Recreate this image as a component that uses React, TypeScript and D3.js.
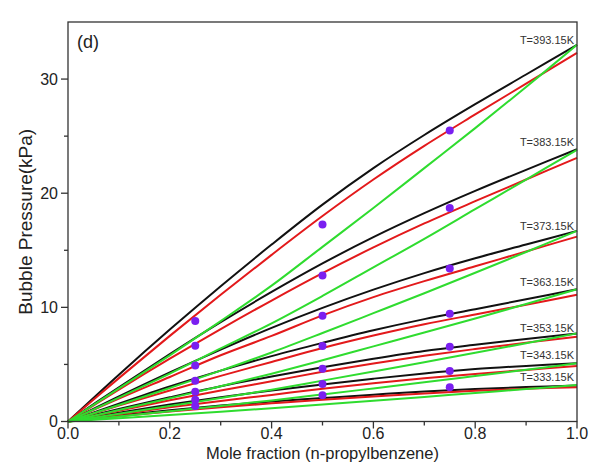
import React from "react";
import * as d3 from "d3";

const xGrid = [0, 0.1, 0.2, 0.3, 0.4, 0.5, 0.6, 0.7, 0.8, 0.9, 1.0];
const temps = ["T=393.15K", "T=383.15K", "T=373.15K", "T=363.15K", "T=353.15K", "T=343.15K", "T=333.15K"];

const black393 = [0, 4.1, 8.05, 11.85, 15.5, 19.0, 22.2, 25.1, 27.8, 30.4, 33.0];
const black383 = [0, 3.0, 5.9, 8.7, 11.35, 13.85, 16.15, 18.25, 20.2, 22.05, 23.85];
const black373 = [0, 2.2, 4.3, 6.3, 8.2, 9.95, 11.55, 13.0, 14.3, 15.5, 16.7];
const black363 = [0, 1.56, 3.07, 4.46, 5.73, 6.89, 7.99, 8.97, 9.84, 10.71, 11.58];
const black353 = [0, 1.1, 2.12, 3.09, 3.95, 4.75, 5.5, 6.18, 6.72, 7.23, 7.72];
const black343 = [0, 0.77, 1.48, 2.13, 2.72, 3.25, 3.75, 4.21, 4.59, 4.87, 5.1];
const black333 = [0, 0.52, 0.99, 1.4, 1.75, 2.05, 2.35, 2.63, 2.85, 3.02, 3.15];

const red393 = [0, 3.8, 7.5, 11.1, 14.6, 18.0, 21.2, 24.15, 26.9, 29.6, 32.3];
const red383 = [0, 2.8, 5.5, 8.1, 10.6, 13.0, 15.25, 17.35, 19.3, 21.2, 23.1];
const red373 = [0, 2.0, 3.9, 5.8, 7.5, 9.3, 10.9, 12.3, 13.6, 14.9, 16.2];
const red363 = [0, 1.39, 2.72, 4.0, 5.22, 6.44, 7.53, 8.52, 9.38, 10.23, 11.1];
const red353 = [0, 0.95, 1.86, 2.71, 3.53, 4.35, 5.09, 5.76, 6.35, 6.91, 7.43];
const red343 = [0, 0.63, 1.24, 1.8, 2.33, 2.87, 3.35, 3.79, 4.17, 4.52, 4.86];
const red333 = [0, 0.45, 0.87, 1.25, 1.59, 1.91, 2.19, 2.46, 2.69, 2.87, 3.0];

const green393 = [0, 2.9, 5.8, 8.8, 11.9, 15.3, 18.7, 22.2, 25.7, 29.3, 33.0];
const green383 = [0, 2.1, 4.2, 6.4, 8.6, 11.0, 13.5, 16.0, 18.6, 21.2, 23.8];
const green373 = [0, 1.45, 2.94, 4.46, 6.05, 7.75, 9.49, 11.24, 13.03, 14.85, 16.7];
const green363 = [0, 1.01, 2.04, 3.09, 4.19, 5.37, 6.58, 7.79, 9.03, 10.29, 11.58];
const green353 = [0, 0.67, 1.36, 2.06, 2.79, 3.58, 4.38, 5.2, 6.02, 6.86, 7.72];
const green343 = [0, 0.44, 0.9, 1.36, 1.85, 2.37, 2.9, 3.43, 3.98, 4.53, 5.1];
const green333 = [0, 0.28, 0.56, 0.85, 1.16, 1.48, 1.82, 2.15, 2.5, 2.84, 3.2];

const expX = [0.25, 0.5, 0.75];
const exp393 = [8.8, 17.27, 25.5];
const exp383 = [6.64, 12.8, 18.7];
const exp373 = [4.9, 9.26, 13.4];
const exp363 = [3.57, 6.61, 9.44];
const exp353 = [2.6, 4.62, 6.55];
const exp343 = [1.9, 3.28, 4.42];
const exp333 = [1.35, 2.29, 3.0];

const labelPos = [33.07, 24.14, 16.78, 11.87, 7.84, 5.48, 3.55];

const xMajor = [0, 0.2, 0.4, 0.6, 0.8, 1.0];
const xMinor = [0.1, 0.3, 0.5, 0.7, 0.9];
const yMajor = [0, 10, 20, 30];
const yMinor = [5, 15, 25];

const blacks = [black393, black383, black373, black363, black353, black343, black333];
const reds = [red393, red383, red373, red363, red353, red343, red333];
const greens = [green393, green383, green373, green363, green353, green343, green333];
const exps = [exp393, exp383, exp373, exp363, exp353, exp343, exp333];

const W = 589, H = 466;
const L = 68, R = 577, T = 22, B = 421.5;

export default function App() {
  const x = d3.scaleLinear().domain([0, 1]).range([L, R]);
  const y = d3.scaleLinear().domain([0, 35]).range([B, T]);
  const line = d3
    .line<number>()
    .x((_, i) => x(xGrid[i]))
    .y((d) => y(d))
    .curve(d3.curveCatmullRom.alpha(0.5));
  const font = "Arial, 'Liberation Sans', sans-serif";
  const axisColor = "#333";
  return (
    <svg width={W} height={H} style={{ position: "absolute", left: 0, top: 0, background: "#fff" }} fontFamily={font}>
      <rect x={0} y={0} width={W} height={H} fill="#fff" />
      <g fill="none" strokeWidth={2} strokeLinejoin="round">
        {blacks.map((s, i) => (
          <path key={"b" + i} d={line(s) || ""} stroke="#111" />
        ))}
        {reds.map((s, i) => (
          <path key={"r" + i} d={line(s) || ""} stroke="#e3191b" />
        ))}
        {greens.map((s, i) => (
          <path key={"g" + i} d={line(s) || ""} stroke="#2fdc2f" />
        ))}
      </g>
      <g fill="#7a1ff0">
        {exps.map((s, i) =>
          s.map((v, j) => <circle key={"e" + i + "-" + j} cx={x(expX[j])} cy={y(v)} r={4} />)
        )}
      </g>
      <g fontSize={11} fill="#333" textAnchor="end">
        {temps.map((t, i) => (
          <text key={t} x={x(1) - 3} y={y(labelPos[i])}>
            {t}
          </text>
        ))}
      </g>
      <g stroke={axisColor} strokeWidth={1.3} fill="none">
        <rect x={L} y={T} width={R - L} height={B - T} />
        {xMajor.map((v) => (
          <line key={"xM" + v} x1={x(v)} x2={x(v)} y1={B} y2={B + 7} />
        ))}
        {xMinor.map((v) => (
          <line key={"xm" + v} x1={x(v)} x2={x(v)} y1={B} y2={B + 4} />
        ))}
        {yMajor.map((v) => (
          <line key={"yM" + v} x1={L} x2={L - 7} y1={y(v)} y2={y(v)} />
        ))}
        {yMinor.map((v) => (
          <line key={"ym" + v} x1={L} x2={L - 4} y1={y(v)} y2={y(v)} />
        ))}
      </g>
      <g fontSize={16} fill="#222">
        {xMajor.map((v) => (
          <text key={"xl" + v} x={x(v)} y={439} textAnchor="middle">
            {d3.format(".1f")(v)}
          </text>
        ))}
        {yMajor.map((v) => (
          <text key={"yl" + v} x={L - 10} y={y(v)} dy="0.35em" textAnchor="end">
            {v}
          </text>
        ))}
      </g>
      <text x={x(0.5)} y={459} textAnchor="middle" fontSize={16.5} fill="#222">
        Mole fraction (n-propylbenzene)
      </text>
      <text transform={`translate(32, ${(T + B) / 2}) rotate(-90)`} textAnchor="middle" fontSize={19} fill="#222">
        Bubble Pressure(kPa)
      </text>
      <text x={77} y={48} fontSize={18} fill="#222">
        (d)
      </text>
    </svg>
  );
}
